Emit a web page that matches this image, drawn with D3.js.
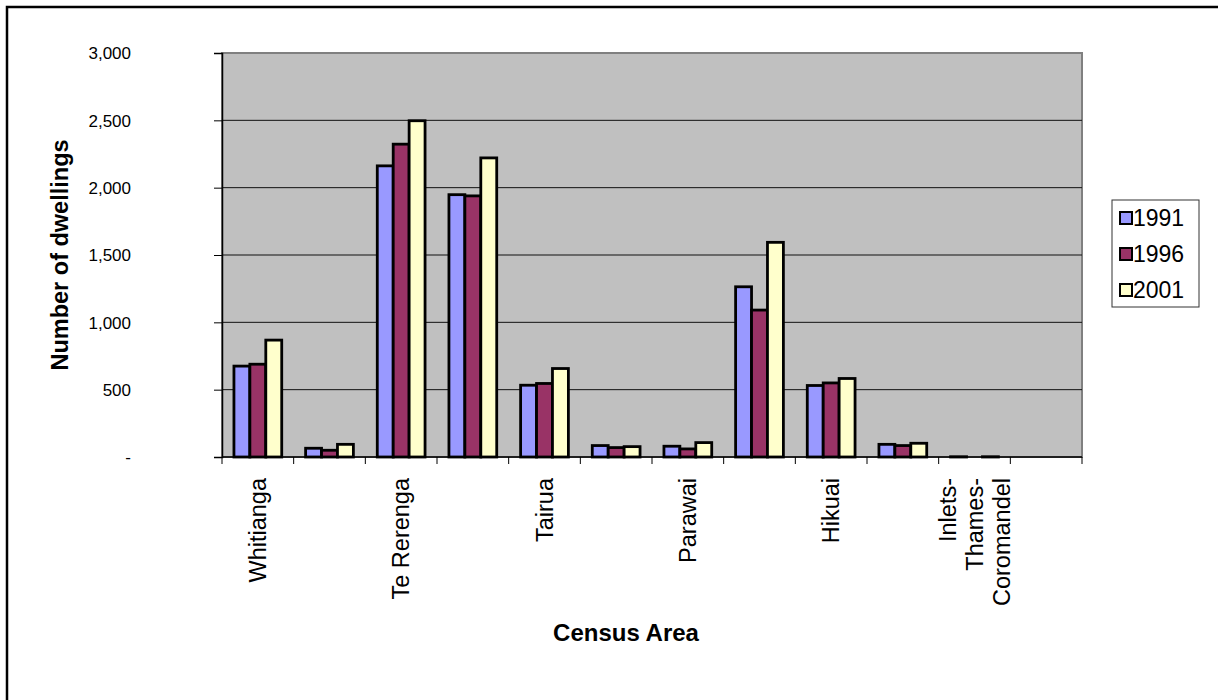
<!DOCTYPE html>
<html>
<head>
<meta charset="utf-8">
<script src="https://cdn.jsdelivr.net/npm/d3@7"></script>
<style>
  body { margin: 0; background: #fff; }
  svg { display: block; font-family: Arial, "Liberation Sans", sans-serif; }
  .ytick { font-size: 17px; fill: #000; }
  .xlab { font-size: 23.5px; fill: #000; }
  .title { font-size: 24px; font-weight: bold; fill: #000; }
  .ytitle { font-size: 23.5px; }
  .legend text { font-size: 23px; fill: #000; }
</style>
</head>
<body>
<div id="chart"></div>
<script>
// census areas (Excel skipped every other label)
var categories = ['Whitianga', '', 'Te Rerenga', '', 'Tairua', '', 'Parawai', '', 'Hikuai', '', 'Inlets-Thames-Coromandel', ''];
var years = ['1991', '1996', '2001'];
var dw1991 = [675, 65, 2162, 1948, 533, 85, 80, 1264, 531, 94, 2, null];
var dw1996 = [689, 50, 2323, 1939, 546, 70, 60, 1091, 550, 85, null, null];
var dw2001 = [868, 94, 2497, 2221, 657, 77, 107, 1594, 583, 102, 2, null];
var yTicks = [0, 500, 1000, 1500, 2000, 2500, 3000];

var colors = ['#9999ff', '#993366', '#ffffcc'];
var series = [dw1991, dw1996, dw2001];

var W = 1218, H = 700;
var plot = { left: 222, right: 1082, top: 53, bottom: 457 };

var svg = d3.select('#chart')
    .append('svg')
    .attr('width', W)
    .attr('height', H);

// outer frame (runs off the right and bottom edges)
svg.append('path')
    .attr('d', 'M7,' + H + 'V7H' + W)
    .attr('fill', 'none')
    .attr('stroke', '#000')
    .attr('stroke-width', 2.5);

var xScale = d3.scaleBand()
    .domain(d3.range(categories.length))
    .range([plot.left, plot.right])
    .paddingInner(0)
    .paddingOuter(0);

var yScale = d3.scaleLinear()
    .domain([0, 3000])
    .range([plot.bottom, plot.top]);

// bars inside one category: gap width 50%
var groupW = xScale.bandwidth() / 1.5;
var xSub = d3.scaleBand()
    .domain(years)
    .range([(xScale.bandwidth() - groupW) / 2, (xScale.bandwidth() + groupW) / 2]);

// plot background
svg.append('rect')
    .attr('x', plot.left)
    .attr('y', plot.top)
    .attr('width', plot.right - plot.left)
    .attr('height', plot.bottom - plot.top)
    .attr('fill', '#c0c0c0')
    .attr('stroke', '#808080')
    .attr('stroke-width', 2);

// gridlines
svg.append('g')
    .selectAll('line')
    .data(yTicks.filter(function(d) { return d > 0 && d < 3000; }))
    .enter()
    .append('line')
    .attr('x1', plot.left)
    .attr('x2', plot.right)
    .attr('y1', function(d) { return yScale(d); })
    .attr('y2', function(d) { return yScale(d); })
    .attr('stroke', '#111')
    .attr('stroke-width', 1);

// bars
var groups = svg.append('g')
    .selectAll('g.cat')
    .data(categories.map(function(c, i) { return i; }))
    .enter()
    .append('g')
    .attr('class', 'cat')
    .attr('transform', function(i) { return 'translate(' + xScale(i) + ',0)'; });

groups.selectAll('rect')
    .data(function(i) {
      return years.map(function(y, k) { return { year: y, k: k, value: series[k][i] }; })
        .filter(function(d) { return d.value !== null; });
    })
    .enter()
    .append('rect')
    .attr('x', function(d) { return xSub(d.year); })
    .attr('y', function(d) { return yScale(d.value); })
    .attr('width', xSub.bandwidth())
    .attr('height', function(d) { return plot.bottom - yScale(d.value); })
    .attr('fill', function(d) { return colors[d.k]; })
    .attr('stroke', '#000')
    .attr('stroke-width', 2.8);

// y axis
var yAxis = d3.axisLeft(yScale)
    .tickValues(yTicks)
    .tickSize(8)
    .tickPadding(0)
    .tickFormat(function(d) { return d === 0 ? '-' : d3.format(',')(d); });

var yg = svg.append('g')
    .attr('transform', 'translate(' + plot.left + ',0)')
    .call(yAxis);
yg.select('.domain').attr('stroke', '#000').attr('stroke-width', 1.5);
yg.selectAll('.tick line').attr('stroke', '#000');
yg.selectAll('.tick text')
    .attr('class', 'ytick')
    .attr('font-size', null)
    .attr('font-family', null)
    .attr('x', -91)
    .attr('dy', '0.35em');

// x axis line + ticks at category edges
var xg = svg.append('g');
xg.append('line')
    .attr('x1', plot.left)
    .attr('x2', plot.right)
    .attr('y1', plot.bottom)
    .attr('y2', plot.bottom)
    .attr('stroke', '#000')
    .attr('stroke-width', 1.5);
xg.selectAll('line.tk')
    .data(d3.range(categories.length + 1))
    .enter()
    .append('line')
    .attr('class', 'tk')
    .attr('x1', function(i) { return i < categories.length ? xScale(i) : plot.right; })
    .attr('x2', function(i) { return i < categories.length ? xScale(i) : plot.right; })
    .attr('y1', plot.bottom)
    .attr('y2', plot.bottom + 7)
    .attr('stroke', '#000');

// category labels, rotated; long one wraps like Excel did
var lineH = 27;
var labels = svg.append('g')
    .selectAll('text')
    .data(categories.map(function(c, i) { return { name: c, i: i }; }).filter(function(d) { return d.name; }))
    .enter()
    .append('text')
    .attr('class', 'xlab')
    .attr('text-anchor', 'end')
    .attr('transform', function(d) {
      var cx = xScale(d.i) + xScale.bandwidth() / 2;
      return 'translate(' + cx + ',' + (plot.bottom + 21) + ') rotate(-90)';
    });

labels.each(function(d) {
  var parts = d.name === 'Inlets-Thames-Coromandel' ? ['Inlets-', 'Thames-', 'Coromandel'] : [d.name];
  var t = d3.select(this);
  parts.forEach(function(p, k) {
    t.append('tspan')
      .attr('x', 0)
      .attr('y', (k - (parts.length - 1) / 2) * lineH)
      .attr('dy', '0.35em')
      .text(p);
  });
});

// axis titles
svg.append('text')
    .attr('class', 'title ytitle')
    .attr('text-anchor', 'middle')
    .attr('transform', 'translate(60,255) rotate(-90)')
    .attr('dy', '0.35em')
    .text('Number of dwellings');

svg.append('text')
    .attr('class', 'title')
    .attr('text-anchor', 'middle')
    .attr('x', 626)
    .attr('y', 641)
    .text('Census Area');

// legend
var legend = svg.append('g')
    .attr('class', 'legend')
    .attr('transform', 'translate(1112,200)');

legend.append('rect')
    .attr('width', 87)
    .attr('height', 107)
    .attr('fill', '#fff')
    .attr('stroke', '#333')
    .attr('stroke-width', 1);

var items = legend.selectAll('g.item')
    .data(years)
    .enter()
    .append('g')
    .attr('class', 'item')
    .attr('transform', function(d, i) { return 'translate(0,' + (18 + i * 36) + ')'; });

items.append('rect')
    .attr('x', 8)
    .attr('y', -6)
    .attr('width', 12)
    .attr('height', 12)
    .attr('fill', function(d, i) { return colors[i]; })
    .attr('stroke', '#000')
    .attr('stroke-width', 2);

items.append('text')
    .attr('x', 21)
    .attr('dy', '0.36em')
    .text(function(d) { return d; });
</script>
</body>
</html>
